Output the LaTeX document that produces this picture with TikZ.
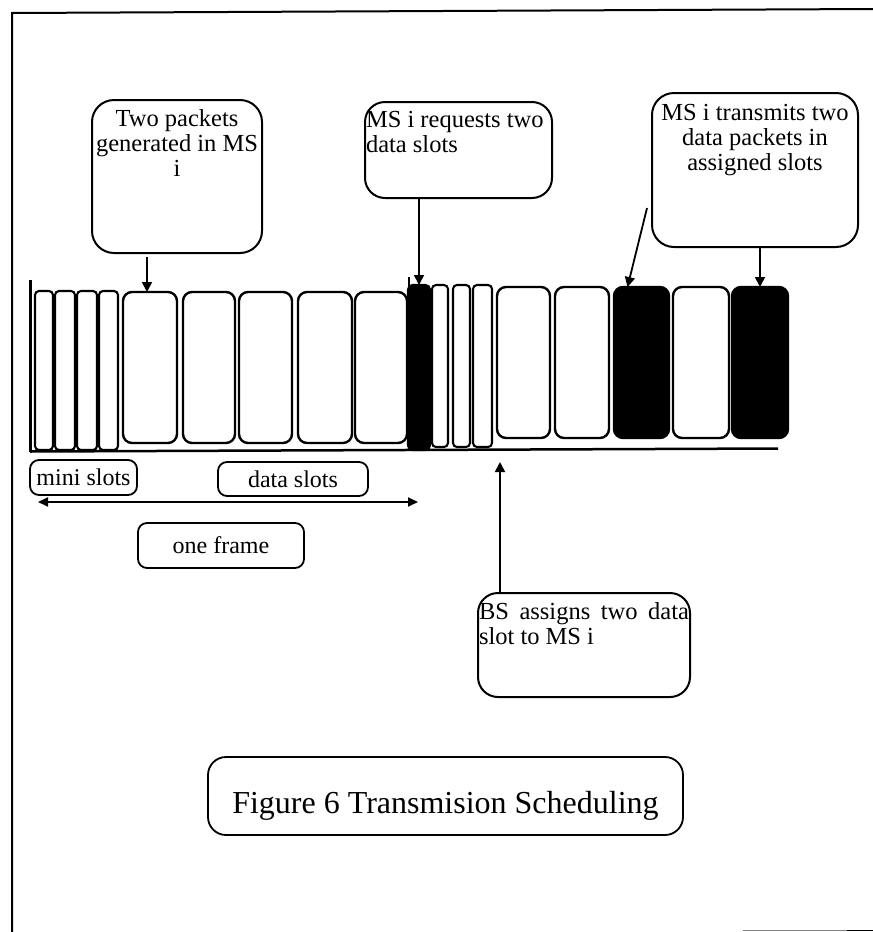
\documentclass[tikz,border=0pt]{standalone}
\usepackage{fontspec}
\setmainfont{Liberation Serif}
\usetikzlibrary{arrows.meta}
\begin{document}
\begin{tikzpicture}[x=1pt,y=-1pt,
  every node/.style={inner sep=0pt, outer sep=0pt},
  callout/.style={draw, line width=2pt, rounded corners=22pt, anchor=north west},
  slotbox/.style={draw, line width=2.4pt, rounded corners=9pt, anchor=north west},
  minibox/.style={draw, line width=2.1pt, rounded corners=4pt, anchor=north west},
  blackbox/.style={slotbox, fill=black},
  tag/.style={draw, line width=1.8pt, rounded corners=9pt, anchor=north west,
    font=\fontsize{24}{26}\selectfont},
  arr/.style={line width=1.8pt, -{Triangle[length=10pt,width=10pt]}},
  cfont/.style={font=\fontsize{24.5}{25}\selectfont}
]
\useasboundingbox (0,0) rectangle (873,932);

% outer frame
\draw[line width=2pt] (12,932) -- (12,13) -- (873,9);
\draw[gray, line width=1.5pt] (743,930.5) -- (873,930.5);
\draw[line width=1.5pt] (847,930.5) -- (873,930.5);

% callouts
\node[callout, cfont, minimum width=170, minimum height=153] (c1) at (92,100)
  {\parbox[c][153pt][t]{170pt}{\centering\vspace*{9pt}Two packets\\generated in MS\\i}};
\node[callout, cfont, rounded corners=20pt, minimum width=187, minimum height=96] (c2) at (365,102)
  {\parbox[c][96pt][t]{185pt}{\raggedright\vspace*{9pt}MS i requests two\\data slots}};
\node[callout, cfont, minimum width=206, minimum height=154] (c3) at (652,93)
  {\parbox[c][154pt][t]{206pt}{\centering\vspace*{11pt}MS i transmits two\\data packets in\\assigned slots}};
\node[callout, cfont, rounded corners=20pt, minimum width=212, minimum height=104] (c4) at (478,593)
  {\parbox[c][104pt][t]{210pt}{\vspace*{9pt}\makebox[\linewidth][s]{BS assigns two data}\par slot to MS i}};

% slot row
\draw[line width=3pt] (30,280) -- (30,452);
\node[minibox, minimum width=18, minimum height=159] (m1) at (35,291) {};
\node[minibox, minimum width=20, minimum height=159] (m2) at (55,291) {};
\node[minibox, minimum width=20, minimum height=159] (m3) at (77,291) {};
\node[minibox, minimum width=19, minimum height=159] (m4) at (99,291) {};
\node[slotbox, minimum width=54, minimum height=151] (d1) at (123,292) {};
\node[slotbox, minimum width=52, minimum height=151] (d2) at (183,292) {};
\node[slotbox, minimum width=53, minimum height=151] (d3) at (239,292) {};
\node[slotbox, minimum width=54, minimum height=151] (d4) at (298,292) {};
\node[slotbox, minimum width=52, minimum height=151] (d5) at (355,292) {};
\node[blackbox, rounded corners=5pt, minimum width=22, minimum height=165] (b1) at (408,285) {};
\draw[line width=2pt] (409,277) -- (409,300);
\node[minibox, minimum width=16, minimum height=162] (m5) at (432,285) {};
\node[minibox, minimum width=17, minimum height=162] (m6) at (453,285) {};
\node[minibox, minimum width=19, minimum height=162] (m7) at (473,285) {};
\node[slotbox, minimum width=53, minimum height=151] (e1) at (497,287) {};
\node[slotbox, minimum width=54, minimum height=151] (e2) at (555,287) {};
\node[blackbox, minimum width=55, minimum height=151] (k1) at (614,287) {};
\node[slotbox, minimum width=56, minimum height=151] (e3) at (673,287) {};
\node[blackbox, minimum width=56, minimum height=151] (k2) at (732,287) {};
\coordinate (bl) at (30,451.5);
\coordinate (br) at (778,448.5);
\draw[line width=2.5pt] (bl) -- (br);

% labels
\node[tag, minimum width=107, minimum height=35] (lmini) at (30,460) {mini slots};
\node[tag, minimum width=150, minimum height=34] (ldata) at (218,462) {data slots};
\node[tag, minimum width=166, minimum height=45] (lframe) at (138,523) {one frame};
\coordinate (fl) at (38,502);
\coordinate (fr) at (418,502);
\draw[line width=1.8pt, {Triangle[length=10pt,width=9pt]}-{Triangle[length=10pt,width=9pt]}] (fl) -- (fr);

% caption
\node[draw, line width=1.8pt, rounded corners=18pt, anchor=north west,
  minimum width=475, minimum height=78, text height=34pt, text depth=0pt,
  font=\fontsize{32}{34}\selectfont] (cap) at (208,757) {Figure 6 Transmision Scheduling};

% arrows
\coordinate (a1s) at (147,257);
\draw[arr] (a1s) -- (a1s |- d1.north);
\draw[arr] (c2.south -| b1.north) -- (b1.north);
\draw[arr] (c3.south -| k2.north) -- (k2.north);
\coordinate (s3) at (647,208);
\draw[arr] (s3) -- ([xshift=-14pt]k1.north);
\coordinate (a4t) at (500,462);
\draw[arr] (a4t |- c4.north) -- (a4t);
\end{tikzpicture}
\end{document}
